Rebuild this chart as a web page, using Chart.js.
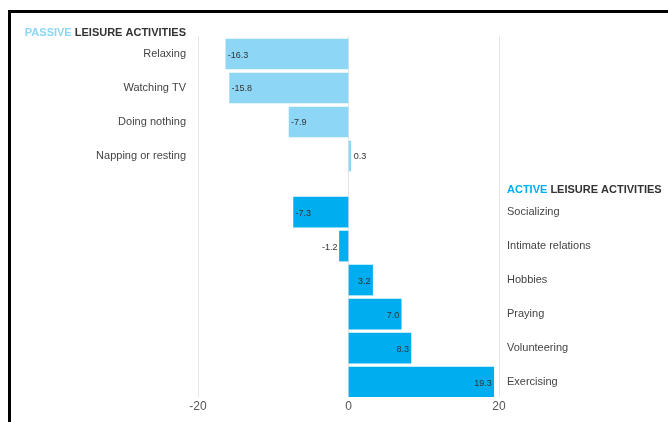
<!DOCTYPE html>
<html>
<head>
<meta charset="utf-8">
<script src="https://cdn.jsdelivr.net/npm/chart.js@4/dist/chart.umd.min.js"></script>
<style>
  html, body { margin: 0; padding: 0; background: #fff; }
  #wrap { position: relative; width: 668px; height: 422px; overflow: hidden; }
  #c { position: absolute; left: 0; top: 0; }
  #frameTop { position: absolute; left: 8px; top: 10px; width: 660px; height: 3px; background: #000; }
  #frameLeft { position: absolute; left: 8px; top: 10px; width: 3px; height: 412px; background: #000; }
</style>
</head>
<body>
<div id="wrap">
  <canvas id="c" width="668" height="422"></canvas>
  <div id="frameTop"></div>
  <div id="frameLeft"></div>
</div>
<script>
// ---- data ----
const passiveLabels = ['Relaxing', 'Watching TV', 'Doing nothing', 'Napping or resting'];
const passiveValues = [-16.3, -15.8, -7.9, 0.3];
const activeLabels = ['Socializing', 'Intimate relations', 'Hobbies', 'Praying', 'Volunteering', 'Exercising'];
const activeValues = [-7.3, -1.2, 3.2, 7.0, 8.3, 19.3];
const xTickValues = [-20, 0, 20];
const passiveTitle = ['PASSIVE', ' LEISURE ACTIVITIES'];
const activeTitle = ['ACTIVE', ' LEISURE ACTIVITIES'];

// ---- layout / style ----
const GAP = 0.65;               // extra space between the two groups (in rows)
const passiveColor = '#8dd6f5';
const activeColor = '#00aeef';
const passivePos = passiveLabels.map((_, i) => i);
const activePos = activeLabels.map((_, i) => passiveLabels.length + GAP + i);
const yMin = -0.53, yMax = activePos[activePos.length - 1] + 0.44;

const labelFont = { family: '"Liberation Sans", Arial, sans-serif', size: 11 };

function labelFor(pos, positions, labels) {
  const i = positions.findIndex(p => Math.abs(p - pos) < 1e-6);
  return i >= 0 ? labels[i] : '';
}

const overlay = {
  id: 'overlay',
  afterDatasetsDraw(chart) {
    const ctx = chart.ctx;
    ctx.save();
    ctx.font = '9px "Liberation Sans", Arial, sans-serif';
    ctx.fillStyle = '#333';
    ctx.textBaseline = 'middle';
    chart.data.datasets.forEach((ds, di) => {
      const meta = chart.getDatasetMeta(di);
      meta.data.forEach((bar, i) => {
        const v = ds.data[i].x;
        const txt = v.toFixed(1);
        const w = Math.abs(bar.x - bar.base);
        let x, align;
        if (w >= 20) {
          if (v < 0) { x = bar.x + 2; align = 'left'; } else { x = bar.x - 2; align = 'right'; }
        } else {
          if (v < 0) { x = bar.x - 2; align = 'right'; } else { x = bar.x + 3; align = 'left'; }
        }
        ctx.textAlign = align;
        ctx.fillText(txt, x, bar.y + 1);
      });
    });
    ctx.restore();
  },
  afterDraw(chart) {
    const ctx = chart.ctx;
    const ys = chart.scales.y;
    const area = chart.chartArea;
    ctx.save();
    ctx.font = 'bold 11px "Liberation Sans", Arial, sans-serif';
    ctx.textBaseline = 'middle';
    ctx.textAlign = 'left';
    const py = ys.getPixelForValue(passivePos[0] - 0.62);
    const pw0 = ctx.measureText(passiveTitle[0]).width;
    const pw1 = ctx.measureText(passiveTitle[1]).width;
    let px = area.left - 12 - pw0 - pw1;
    ctx.fillStyle = passiveColor; ctx.fillText(passiveTitle[0], px, py);
    ctx.fillStyle = '#333'; ctx.fillText(passiveTitle[1], px + pw0, py);
    const ay = ys.getPixelForValue(activePos[0] - 0.65);
    const aw0 = ctx.measureText(activeTitle[0]).width;
    let ax = area.right + 8;
    ctx.fillStyle = activeColor; ctx.fillText(activeTitle[0], ax, ay);
    ctx.fillStyle = '#333'; ctx.fillText(activeTitle[1], ax + aw0, ay);
    ctx.restore();
  }
};

new Chart(document.getElementById('c'), {
  type: 'bar',
  data: {
    datasets: [
      {
        label: 'Passive',
        data: passiveValues.map((v, i) => ({ x: v, y: passivePos[i] })),
        backgroundColor: passiveColor,
        borderWidth: 0,
        barThickness: 30,
        yAxisID: 'y'
      },
      {
        label: 'Active',
        data: activeValues.map((v, i) => ({ x: v, y: activePos[i] })),
        backgroundColor: activeColor,
        borderWidth: 0,
        barThickness: 30,
        yAxisID: 'y'
      }
    ]
  },
  options: {
    indexAxis: 'y',
    responsive: false,
    animation: false,
    grouped: false,
    layout: { padding: { top: 36, left: 0, right: 0, bottom: 0 } },
    plugins: { legend: { display: false }, tooltip: { enabled: false } },
    scales: {
      x: {
        type: 'linear',
        min: -20, max: 20,
        afterBuildTicks(s) { s.ticks = xTickValues.map(v => ({ value: v })); },
        afterFit(s) { s.height = 25; },
        grid: { color: '#e6e6e6', lineWidth: 1, drawTicks: false },
        border: { display: false },
        ticks: { color: '#555', font: { family: '"Liberation Sans", Arial, sans-serif', size: 12 }, padding: 2 }
      },
      y: {
        type: 'linear',
        position: 'left',
        reverse: true,
        offset: false,
        min: yMin, max: yMax,
        afterBuildTicks(s) { s.ticks = passivePos.map(v => ({ value: v })); },
        afterFit(s) { s.width = 198; },
        grid: { display: false, offset: false, drawTicks: false },
        border: { display: false },
        ticks: {
          autoSkip: false,
          color: '#444',
          font: labelFont,
          padding: 12,
          callback: v => labelFor(v, passivePos, passiveLabels)
        }
      },
      y2: {
        type: 'linear',
        position: 'right',
        reverse: true,
        offset: false,
        min: yMin, max: yMax,
        afterBuildTicks(s) { s.ticks = activePos.map(v => ({ value: v })); },
        afterFit(s) { s.width = 169; },
        grid: { display: false, offset: false, drawTicks: false },
        border: { display: false },
        ticks: {
          autoSkip: false,
          color: '#444',
          font: labelFont,
          padding: 8,
          callback: v => labelFor(v, activePos, activeLabels)
        }
      }
    }
  },
  plugins: [overlay]
});
</script>
</body>
</html>
